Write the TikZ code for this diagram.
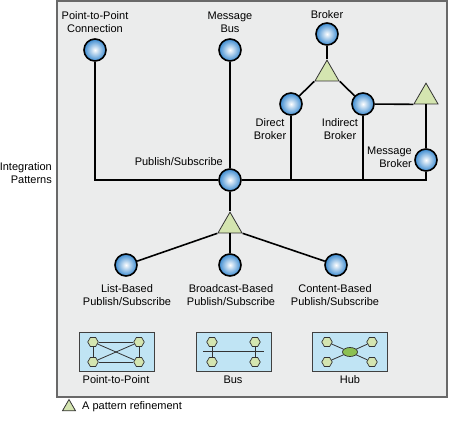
\documentclass[tikz,border=0pt]{standalone}
\usepackage{fontspec}
\setmainfont{Liberation Sans}
\usetikzlibrary{shapes.geometric}

\definecolor{panelgray}{RGB}{235,236,236}
\definecolor{framegray}{RGB}{105,105,105}
\definecolor{ballblue}{RGB}{58,138,208}
\definecolor{refgreen}{RGB}{212,229,176}
\definecolor{hubgreen}{RGB}{140,192,82}
\definecolor{iconblue}{RGB}{192,228,244}

\tikzset{
  pattern/.style={circle, draw=black, line width=1.6pt, minimum size=22pt, inner sep=0pt,
    shading=radial, inner color=white, outer color=ballblue},
  refine/.style={regular polygon, regular polygon sides=3, draw=black!80, line width=0.8pt,
    fill=refgreen, minimum size=27.7pt, inner sep=0pt},
  link/.style={line width=1.6pt, black},
  txt/.style={font=\fontsize{11}{13}\selectfont, align=center, inner sep=0pt},
  iconbox/.style={draw=black!75, line width=1pt, fill=iconblue, minimum width=75pt,
    minimum height=39pt, inner sep=0pt},
  hexa/.style={regular polygon, regular polygon sides=6, draw=black!80, line width=0.7pt,
    fill=refgreen, minimum size=10.5pt, inner sep=0pt},
  thin/.style={line width=0.8pt, black!80}
}

\begin{document}
\begin{tikzpicture}[x=1pt,y=-1pt]
\useasboundingbox (0,0) rectangle (450,423);
% Panel
\draw[draw=framegray, fill=panelgray, line width=1.5pt] (57,1) rectangle (447,397);
% Side label
\node[txt, align=right, anchor=east] (side) at (52,173) {Integration\\Patterns};
% Patterns
\node[pattern] (p2p) at (95,50) {};
\node[pattern] (bus) at (230,50) {};
\node[pattern] (br) at (327,34) {};
\node[pattern] (db) at (291,104) {};
\node[pattern] (ib) at (363,104) {};
\node[pattern] (mb) at (426,160) {};
\node[pattern] (ps) at (230,180) {};
\node[pattern] (lb) at (126,265) {};
\node[pattern] (bb) at (230,265) {};
\node[pattern] (cb) at (336,265) {};
% Refinements
\node[refine] (tb) at (327,74) {};
\node[refine] (tr) at (426,97) {};
\node[refine] (tp) at (230,226) {};
% Labels
\node[txt] (lp2p) at (95,22) {Point-to-Point\\Connection};
\node[txt] (lbus) at (230,22) {Message\\Bus};
\node[txt] (lbr) at (327,15) {Broker};
\node[txt] (ldb) at (270,129) {Direct\\Broker};
\node[txt] (lib) at (340,129) {Indirect\\Broker};
\node[txt, align=right, anchor=east] (lmb) at (412,157) {Message\\Broker};
\node[txt, anchor=east] (lps) at (223,162) {Publish/Subscribe};
\node[txt] (llb) at (127,295) {List-Based\\Publish/Subscribe};
\node[txt] (lbb) at (231,295) {Broadcast-Based\\Publish/Subscribe};
\node[txt] (lcb) at (335,295) {Content-Based\\Publish/Subscribe};
% Connections
\draw[link] (p2p) |- (ps);
\draw[link] (bus) -- (ps);
\draw[link] (ps) -| (mb);
\draw[link] (db) -- (db |- ps);
\draw[link] (ib) -- (ib |- ps);
\draw[link] (br) -- (tb.corner 1);
\draw[link] (tb.corner 2) -- (db);
\draw[link] (tb.corner 3) -- (ib);
\draw[link] (ib) -- (tr.corner 2);
\draw[link] (tr.south) -- (mb);
\draw[link] (ps) -- (tp.corner 1);
\draw[link] (tp.corner 2) -- (lb);
\draw[link] (tp.south) -- (bb);
\draw[link] (tp.corner 3) -- (cb);
% Icon boxes
\node[iconbox] (boxp) at (116.5,351.5) {};
\node[iconbox] (boxb) at (233.5,351.5) {};
\node[iconbox] (boxh) at (350,351.5) {};
\node[txt] (lboxp) at (116,380) {Point-to-Point};
\node[txt] (lboxb) at (233,380) {Bus};
\node[txt] (lboxh) at (350,380) {Hub};
% Point-to-Point icon
\node[hexa] (pa) at (93,342) {};
\node[hexa] (pb) at (139,342) {};
\node[hexa] (pc) at (93,362) {};
\node[hexa] (pd) at (139,362) {};
\draw[thin] (pa) -- (pb);
\draw[thin] (pc) -- (pd);
\draw[thin] (pa) -- (pc);
\draw[thin] (pb) -- (pd);
\draw[thin] (pa) -- (pd);
\draw[thin] (pb) -- (pc);
% Bus icon
\node[hexa] (ba) at (212,342) {};
\node[hexa] (bb2) at (255,342) {};
\node[hexa] (bc) at (212,362) {};
\node[hexa] (bd) at (255,362) {};
\coordinate (busl) at (203,351);
\coordinate (busr) at (264,351);
\draw[thin] (busl) -- (busr);
\draw[thin] (ba) -- (bc);
\draw[thin] (bb2) -- (bd);
% Hub icon
\node[ellipse, draw=black!80, line width=0.7pt, fill=hubgreen, minimum width=15pt,
  minimum height=9pt, inner sep=0pt] (hub) at (350,352) {};
\node[hexa] (ha) at (327,342) {};
\node[hexa] (hb) at (372,342) {};
\node[hexa] (hc) at (327,362) {};
\node[hexa] (hd) at (372,362) {};
\draw[thin] (ha) -- (hub);
\draw[thin] (hb) -- (hub);
\draw[thin] (hc) -- (hub);
\draw[thin] (hd) -- (hub);
% Legend
\node[refine, minimum size=15pt] (leg) at (69,407) {};
\node[txt, anchor=west] (lleg) at (82,407) {A pattern refinement};
\end{tikzpicture}
\end{document}
